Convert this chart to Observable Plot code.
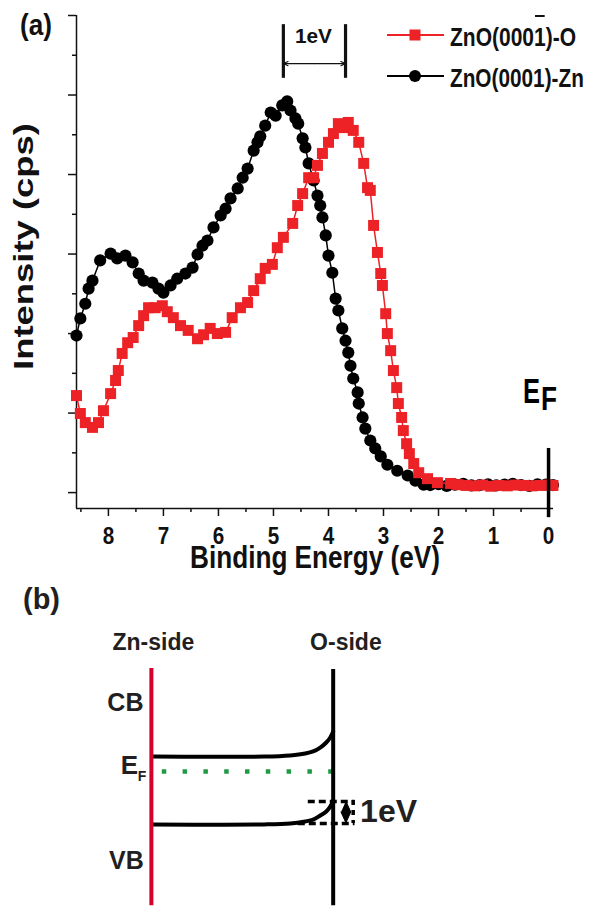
<!DOCTYPE html>
<html><head><meta charset="utf-8">
<script src="https://cdn.jsdelivr.net/npm/d3@7"></script>
<script src="https://cdn.jsdelivr.net/npm/@observablehq/plot@0.6"></script>
<style>
html,body{margin:0;padding:0;background:#fff;}
#wrap{position:relative;width:589px;height:907px;overflow:hidden;background:#fff;}
#a{position:absolute;left:0;top:0;}
#b{position:absolute;left:0;top:580px;}
svg{display:block;}
</style></head><body>
<div id="wrap"><div id="a"></div><div id="b"></div></div>
<script>
// ---------- Panel (a) data: valence-band XPS spectra ----------
const energyZn = [8.58,8.51,8.42,8.36,8.29,8.15,7.96,7.84,7.69,7.56,7.45,7.36,7.20,7.09,7.00,6.87,6.75,6.60,6.47,6.38,6.29,6.20,6.09,5.96,5.87,5.78,5.65,5.56,5.47,5.36,5.29,5.24,5.15,5.05,4.96,4.84,4.75,4.69,4.60,4.55,4.47,4.42,4.36,4.27,4.20,4.15,4.11,4.05,4.00,3.93,3.87,3.82,3.75,3.69,3.64,3.60,3.55,3.47,3.45,3.38,3.33,3.24,3.15,3.05,2.93,2.75,2.56,2.42,2.27,2.15,2.00,1.85,1.70,1.55,1.40,1.25,1.10,0.95,0.80,0.65,0.50,0.35,0.20,0.05,-0.08];
const countsZn = [3.95,4.38,4.75,5.13,5.33,5.84,6.01,5.89,5.96,5.79,5.51,5.33,5.28,5.13,5.03,5.21,5.38,5.51,5.66,5.99,6.21,6.34,6.67,6.97,7.14,7.40,7.65,7.92,8.15,8.60,8.81,8.96,9.23,9.56,9.48,9.74,9.84,9.61,9.41,9.28,8.91,8.68,8.28,7.85,7.47,7.22,6.92,6.47,5.96,5.53,4.88,4.58,4.13,3.82,3.52,3.19,2.87,2.52,2.24,1.89,1.61,1.31,1.11,0.91,0.70,0.55,0.43,0.30,0.20,0.19,0.21,0.17,0.20,0.22,0.18,0.19,0.21,0.18,0.20,0.22,0.19,0.17,0.21,0.20,0.19];
const energyO = [8.58,8.51,8.42,8.29,8.18,8.09,7.96,7.87,7.82,7.75,7.65,7.55,7.45,7.36,7.27,7.15,7.02,6.93,6.82,6.69,6.55,6.38,6.27,6.15,6.02,5.87,5.75,5.60,5.47,5.36,5.24,5.15,5.02,4.93,4.82,4.65,4.56,4.47,4.36,4.27,4.20,4.11,4.00,3.91,3.82,3.73,3.64,3.55,3.45,3.36,3.29,3.24,3.18,3.11,3.05,3.02,2.96,2.93,2.87,2.82,2.76,2.73,2.67,2.64,2.58,2.53,2.45,2.36,2.20,2.02,1.78,1.65,1.50,1.35,1.20,1.05,0.90,0.75,0.60,0.45,0.30,0.15,0.00,-0.08];
const countsO = [2.44,1.99,1.76,1.64,1.76,2.06,2.49,2.82,3.07,3.50,3.77,3.90,4.20,4.45,4.65,4.65,4.70,4.55,4.40,4.20,4.08,3.87,3.97,4.13,4.00,4.03,4.40,4.65,4.78,5.08,5.38,5.64,5.74,6.16,6.42,6.77,7.22,7.52,7.92,7.92,8.23,8.53,8.81,9.03,9.28,9.18,9.31,9.11,8.81,8.28,7.67,7.60,6.72,6.04,5.51,5.21,4.50,4.00,3.57,3.07,2.64,2.24,1.89,1.56,1.23,0.98,0.73,0.50,0.35,0.25,0.23,0.20,0.18,0.17,0.19,0.16,0.18,0.17,0.19,0.18,0.17,0.18,0.19,0.18];
const seriesNames = ["ZnO(0001)-O", "ZnO(0001)-Zn"];   // first one carries an overbar on the "1"
const xMajorTicks = [8,7,6,5,4,3,2,1,0];
const xMinorTicks = [8.5,7.5,6.5,5.5,4.5,3.5,2.5,1.5,0.5];
const yMajorTicks = [0,2,4,6,8,10,12];
const yMinorTicks = [1,3,5,7,9,11];
const peakEnergies = [4.82, 3.69];      // Zn-side peak, O-side peak
const shiftLabel = "1eV";
const fermiEnergy = 0;

// ---------- Panel (b) data: band-bending schematic ----------
const bandPos   = [0.01,0.62,0.764,0.846,0.89,0.929,0.962,0.984,1.0];
const cbEnergy  = [0.65,0.65,0.70,0.78,0.87,1.04,1.26,1.48,1.74];
const vbEnergy  = [-2.30,-2.30,-2.26,-2.17,-2.09,-1.91,-1.74,-1.52,-1.30];
const sideNames = ["Zn-side","O-side"];
const bandNames = ["CB","VB"];

// ---------- styling constants ----------
const RED = "#ec2227";
const NARROW = '"Liberation Sans Narrow","Arial Narrow","Liberation Sans",Arial,sans-serif';
const SANS = '"Liberation Sans",Arial,sans-serif';
const xDomain = [8.58, -0.09];
const yDomain = [-0.4, 12];

const dataZn = energyZn.map((e,i)=>({e, v: countsZn[i]}));
const dataO  = energyO.map((e,i)=>({e, v: countsO[i]}));
const arrowMid = (peakEnergies[0] + peakEnergies[1]) / 2;

const A = Plot.plot({
  width: 589, height: 580,
  marginLeft: 76, marginRight: 36, marginTop: 15, marginBottom: 72,
  x: {domain: xDomain, axis: null},
  y: {domain: yDomain, axis: null},
  style: {background: "transparent", overflow: "visible", color: "#111"},
  marks: [
    Plot.ruleX([xDomain[0]], {stroke: "#111", strokeWidth: 1.5}),
    Plot.ruleY([yDomain[0]], {stroke: "#111", strokeWidth: 1.5}),
    Plot.axisY(yMajorTicks, {anchor: "left", tickSize: 8, tickFormat: () => "", label: null, strokeWidth: 1.5}),
    Plot.axisY(yMinorTicks, {anchor: "left", tickSize: 4, tickFormat: () => "", label: null, strokeWidth: 1.5}),
    Plot.axisX(xMajorTicks, {anchor: "bottom", tickSize: 8, tickFormat: () => "", label: null, strokeWidth: 1.5}),
    Plot.axisX(xMinorTicks, {anchor: "bottom", tickSize: 4, tickFormat: () => "", label: null, strokeWidth: 1.5}),
    Plot.text(xMajorTicks, {x: d => d, y: yDomain[0], dy: 28, text: d => String(d), fontSize: 24, fontWeight: "bold", fontFamily: NARROW, fill: "#111"}),
    Plot.line(dataZn, {x: "e", y: "v", stroke: "#000", strokeWidth: 1.5}),
    Plot.dot(dataZn, {x: "e", y: "v", r: 6.1, fill: "#000"}),
    Plot.line(dataO, {x: "e", y: "v", stroke: RED, strokeWidth: 1.5}),
    Plot.dot(dataO, {x: "e", y: "v", r: 6.2, symbol: "square", fill: RED}),
    Plot.ruleX(peakEnergies, {y1: 10.42, y2: 11.77, stroke: "#111", strokeWidth: 3.2}),
    Plot.arrow(peakEnergies, {x1: arrowMid, x2: d => d, y1: 10.79, y2: 10.79, stroke: "#111", strokeWidth: 1.1, headLength: 7, headAngle: 50}),
    Plot.ruleX([fermiEnergy], {y1: -0.63, y2: 1.11, stroke: "#000", strokeWidth: 3.5})
  ]
});
document.getElementById("a").appendChild(A);

// text with a given cap size, squeezed/stretched to a given width
function addText(svg, o) {
  let tr = `translate(${o.x},${o.y})`;
  if (o.rotate) tr += ` rotate(${o.rotate})`;
  const g = d3.select(svg).append("g").attr("transform", tr);
  const t = g.append("text")
    .attr("font-family", o.family || NARROW)
    .attr("font-size", o.size)
    .attr("font-weight", o.weight || "bold")
    .attr("fill", o.fill || "#111")
    .attr("text-anchor", o.anchor || "start")
    .text(o.text);
  if (o.len) {
    const w = t.node().getComputedTextLength();
    if (w > 0) {
      const k = o.len / w;
      t.attr("font-size", o.size * k).attr("transform", `scale(1,${1 / k})`);
    }
  }
  return t;
}
// condense tick digits (reference uses a narrow bold face)
d3.select(A).selectAll('g[aria-label="text"] text').attr("textLength", 11.5).attr("lengthAdjust", "spacingAndGlyphs");

addText(A, {x: 20, y: 35, text: "(a)", size: 29, len: 32});
addText(A, {x: 33, y: 246.5, rotate: -90, text: "Intensity (cps)", size: 28, len: 247, anchor: "middle"});
addText(A, {x: 315, y: 568, text: "Binding Energy (eV)", size: 32, len: 250, anchor: "middle"});
addText(A, {x: 295, y: 43, text: shiftLabel, size: 21, len: 37});
addText(A, {x: 523, y: 403, text: "E", size: 36, len: 17, fill: "#000"});
addText(A, {x: 541, y: 410, text: "F", size: 34, len: 16, fill: "#000"});

// legend
const lg = d3.select(A).append("g");
lg.append("line").attr("x1", 387).attr("x2", 444).attr("y1", 35).attr("y2", 35).attr("stroke", RED).attr("stroke-width", 1.8);
lg.append("rect").attr("x", 409.5).attr("y", 29.5).attr("width", 11).attr("height", 11).attr("fill", RED);
lg.append("line").attr("x1", 387).attr("x2", 444).attr("y1", 76).attr("y2", 76).attr("stroke", "#000").attr("stroke-width", 1.8);
lg.append("circle").attr("cx", 415).attr("cy", 76).attr("r", 6).attr("fill", "#000");
const t1 = addText(A, {x: 450, y: 46, text: seriesNames[0], size: 26, len: 126, fill: "#111"});
addText(A, {x: 450, y: 87, text: seriesNames[1], size: 26, len: 134, fill: "#111"});
let ob0 = 536, ob1 = 547;
try { const n = t1.node(); ob0 = 450 + n.getStartPositionOfChar(7).x + 1; ob1 = 450 + n.getEndPositionOfChar(7).x - 1; } catch (e) {}
lg.append("line").attr("x1", ob0).attr("x2", ob1).attr("y1", 16).attr("y2", 16).attr("stroke", "#111").attr("stroke-width", 2);

// ---------- Panel (b) ----------
const xB = [-0.83, 2.41], yB = [-5.91, 8.30];
const cb = bandPos.map((x,i)=>({x, y: cbEnergy[i]}));
const vb = bandPos.map((x,i)=>({x, y: vbEnergy[i]}));
const diamond = [{x:1.07,y:-1.29},{x:1.097,y:-1.76},{x:1.07,y:-2.23},{x:1.043,y:-1.76}];
const B = Plot.plot({
  width: 589, height: 327, margin: 0,
  x: {domain: xB, axis: null},
  y: {domain: yB, axis: null},
  style: {background: "transparent", overflow: "visible"},
  marks: [
    Plot.ruleY([fermiEnergy], {x1: 0.06, x2: 1.0, stroke: "#1f9a44", strokeWidth: 4.5, strokeDasharray: "4.5 16.3"}),
    Plot.ruleY([vbEnergy[vbEnergy.length-1]], {x1: 0.863, x2: 1.12, stroke: "#000", strokeWidth: 3.5, strokeDasharray: "7 4"}),
    Plot.ruleY([vbEnergy[0] + 0.04], {x1: 0.808, x2: 1.12, stroke: "#000", strokeWidth: 3.5, strokeDasharray: "7 4"}),
    Plot.ruleX([1.11], {y1: -1.26, y2: -2.26, stroke: "#000", strokeWidth: 3.5, strokeDasharray: "5 5"}),
    Plot.line(diamond, {x: "x", y: "y", fill: "#000", stroke: "#000", strokeWidth: 1}),
    Plot.line(cb, {x: "x", y: "y", stroke: "#000", strokeWidth: 4, curve: "catmull-rom"}),
    Plot.line(vb, {x: "x", y: "y", stroke: "#000", strokeWidth: 4, curve: "catmull-rom"}),
    Plot.ruleX([0], {y1: -5.83, y2: 4.48, stroke: "#d7002a", strokeWidth: 4}),
    Plot.ruleX([1], {y1: -5.83, y2: 4.43, stroke: "#000", strokeWidth: 4}),
    Plot.text(sideNames, {x: [0.011, 1.07], y: [5.61, 5.61], text: d => d, fontSize: 23, fontWeight: "bold", fontFamily: SANS, fill: "#231f20"}),
    Plot.text(bandNames, {x: [-0.143, -0.137], y: [2.96, -3.87], text: d => d, fontSize: 25, fontWeight: "bold", fontFamily: SANS, fill: "#231f20"}),
    Plot.text(["E"], {x: -0.121, y: 0.26, text: d => d, fontSize: 26, fontWeight: "bold", fontFamily: SANS, fill: "#231f20"}),
    Plot.text(["F"], {x: -0.052, y: -0.2, text: d => d, fontSize: 14, fontWeight: "bold", fontFamily: SANS, fill: "#231f20"}),
    Plot.text([shiftLabel], {x: 1.148, y: -1.74, text: d => d, textAnchor: "start", fontSize: 32, fontWeight: "bold", fontFamily: SANS, fill: "#231f20"})
  ]
});
document.getElementById("b").appendChild(B);
addText(B, {x: 23, y: 29, text: "(b)", size: 29, len: 37, fill: "#231f20"});
</script>
</body></html>
